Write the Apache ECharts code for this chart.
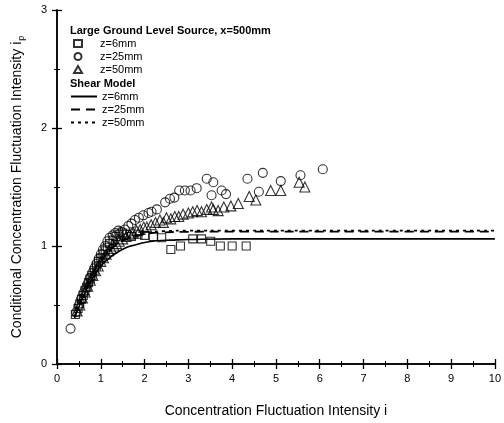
<!DOCTYPE html>
<html>
<head>
<meta charset="utf-8">
<script src="https://cdn.jsdelivr.net/npm/echarts@6/dist/echarts.min.js"></script>
<style>
  html, body { margin: 0; padding: 0; background: #fff; }
  #chart { width: 504px; height: 423px; }
</style>
</head>
<body>
<div id="chart"></div>
<script>
// Measured points: conditional intensity ip against intensity i
const sq6 = [
  [0.42,0.42],[0.48,0.47],[0.52,0.51],[0.56,0.55],[0.60,0.58],[0.64,0.62],[0.68,0.65],
  [0.72,0.69],[0.76,0.72],[0.80,0.75],[0.85,0.79],[0.90,0.83],[0.95,0.87],[1.00,0.90],
  [1.05,0.93],[1.10,0.96],[1.15,0.99],[1.20,1.02],[1.28,1.05],[1.35,1.08],[1.42,1.10],
  [1.50,1.11],[1.58,1.10],[1.70,1.08],[1.85,1.10],[2.00,1.09],[2.20,1.08],[2.39,1.07],
  [2.60,0.97],[2.82,1.00],[3.10,1.06],[3.30,1.06],[3.51,1.04],[3.73,1.00],[4.00,1.00],
  [4.32,1.00]
];
const circ25 = [
  [0.31,0.30],[0.44,0.44],[0.50,0.50],[0.55,0.55],[0.60,0.60],[0.65,0.64],[0.70,0.68],
  [0.75,0.73],[0.80,0.77],[0.85,0.81],[0.90,0.85],[0.95,0.89],[1.00,0.93],[1.05,0.97],
  [1.10,1.00],[1.15,1.04],[1.20,1.07],[1.27,1.09],[1.33,1.11],[1.40,1.13],[1.47,1.12],
  [1.55,1.14],[1.63,1.17],[1.70,1.19],[1.78,1.22],[1.87,1.24],[1.97,1.26],[2.09,1.28],
  [2.16,1.29],[2.28,1.31],[2.47,1.37],[2.58,1.40],[2.68,1.41],[2.79,1.47],[2.92,1.47],
  [3.05,1.47],[3.19,1.49],[3.42,1.57],[3.57,1.54],[3.53,1.43],[3.76,1.47],[3.86,1.44],
  [4.35,1.57],[4.61,1.46],[4.70,1.62],[5.11,1.55],[5.56,1.60],[6.07,1.65]
];
const tri50 = [
  [0.46,0.45],[0.52,0.50],[0.58,0.56],[0.64,0.61],[0.70,0.66],[0.76,0.71],[0.82,0.75],
  [0.88,0.79],[0.94,0.83],[1.00,0.87],[1.06,0.90],[1.12,0.93],[1.18,0.96],[1.24,0.98],
  [1.30,1.00],[1.36,1.02],[1.42,1.04],[1.50,1.06],[1.58,1.08],[1.66,1.10],[1.74,1.11],
  [1.82,1.13],[1.90,1.14],[1.98,1.16],[2.05,1.16],[2.15,1.18],[2.25,1.20],[2.35,1.22],
  [2.43,1.20],[2.50,1.24],[2.60,1.23],[2.69,1.25],[2.78,1.25],[2.88,1.27],[3.00,1.28],
  [3.10,1.29],[3.20,1.30],[3.30,1.29],[3.42,1.31],[3.53,1.33],[3.57,1.31],[3.68,1.30],
  [3.81,1.33],[3.97,1.34],[4.14,1.36],[4.39,1.42],[4.54,1.39],[4.88,1.47],[5.11,1.47],
  [5.53,1.54],[5.66,1.50]
];

// Shear model curves
const model6 = [
  [0.40,0.39],[0.60,0.57],[0.80,0.72],[1.00,0.83],[1.20,0.90],[1.40,0.95],[1.60,0.99],
  [1.80,1.01],[2.00,1.03],[2.30,1.045],[2.60,1.05],[3.00,1.055],[4.00,1.06],[6.00,1.06],
  [8.00,1.06],[10.0,1.06]
];
const model25 = [
  [0.40,0.40],[0.60,0.59],[0.80,0.75],[1.00,0.87],[1.20,0.96],[1.40,1.02],[1.60,1.06],
  [1.80,1.08],[2.00,1.10],[2.40,1.115],[3.00,1.12],[4.00,1.122],[6.00,1.122],[8.00,1.122],
  [10.0,1.122]
];
const model50 = [
  [0.40,0.40],[0.60,0.59],[0.80,0.75],[1.00,0.87],[1.20,0.96],[1.40,1.03],[1.60,1.07],
  [1.80,1.09],[2.00,1.11],[2.40,1.125],[3.00,1.13],[4.00,1.13],[6.00,1.13],[8.00,1.13],
  [10.0,1.13]
];

const dataNames = ['z=6mm', 'z=25mm', 'z=50mm'];
const xTicks = { min: 0, max: 10, step: 1 };
const yTicks = { min: 0, max: 3, step: 1 };

const FONT = '"Liberation Sans", Arial, Helvetica, sans-serif';
const hollow = { color: 'rgba(0,0,0,0)', borderColor: '#000', borderWidth: 1.1 };

function frameAxis(extra) {
  return Object.assign({
    axisLine: { show: true, lineStyle: { color: '#000', width: 1.5 } },
    axisTick: { show: true, inside: true, length: 5, lineStyle: { color: '#000', width: 1.3 } },
    minorTick: { show: true, splitNumber: 2, length: 3, lineStyle: { color: '#000', width: 1 } },
    splitLine: { show: false },
    axisLabel: { show: false }
  }, extra);
}

const chart = echarts.init(document.getElementById('chart'), null, { renderer: 'canvas' });

const legendText = { fontSize: 11, lineHeight: 11, color: '#000', fontFamily: FONT };

chart.setOption({
  animation: false,
  backgroundColor: '#fff',
  textStyle: { fontFamily: FONT },
  grid: { left: 57, right: 9, top: 10, bottom: 57, containLabel: false },
  title: [
    { text: 'Large Ground Level Source, x=500mm', left: 70, top: 25, padding: 0,
      textStyle: { fontSize: 11, lineHeight: 12, fontWeight: 'bold', color: '#000', fontFamily: FONT } },
    { text: 'Shear Model', left: 70, top: 78, padding: 0,
      textStyle: { fontSize: 11, lineHeight: 12, fontWeight: 'bold', color: '#000', fontFamily: FONT } }
  ],
  legend: [
    {
      data: dataNames.map(n => 'pts ' + n),
      orient: 'vertical', left: 73, top: 38, itemGap: 2, padding: 0,
      itemWidth: 8, itemHeight: 7,
      formatter: n => n.replace('pts ', ''),
      textStyle: Object.assign({ padding: [0, 0, 0, 13] }, legendText)
    },
    {
      data: dataNames.map(n => 'mdl ' + n),
      orient: 'vertical', left: 70, top: 91, itemGap: 2, padding: 0,
      itemWidth: 26, itemHeight: 9,
      itemStyle: { opacity: 0 },
      formatter: n => n.replace('mdl ', ''),
      textStyle: legendText
    }
  ],
  xAxis: [
    frameAxis({
      type: 'value', min: xTicks.min, max: xTicks.max, interval: xTicks.step,
      position: 'bottom',
      axisLabel: { show: true, color: '#000', fontSize: 11, margin: 9, fontFamily: FONT },
      name: 'Concentration Fluctuation Intensity i',
      nameLocation: 'middle', nameGap: 40,
      nameTextStyle: { fontSize: 14, color: '#000', fontFamily: FONT }
    }),
    frameAxis({ type: 'value', min: xTicks.min, max: xTicks.max, interval: xTicks.step, position: 'top' })
  ],
  yAxis: [
    frameAxis({
      type: 'value', min: yTicks.min, max: yTicks.max, interval: yTicks.step,
      position: 'left',
      axisLabel: { show: true, color: '#000', fontSize: 11, margin: 10, fontFamily: FONT },
      name: 'Conditional Concentration Fluctuation Intensity {s|i}{sub|p}',
      nameLocation: 'middle', nameGap: 31, nameRotate: 90,
      nameTextStyle: {
        fontSize: 14, color: '#000', fontFamily: FONT,
        rich: {
          s: { fontSize: 14, color: '#000', fontFamily: FONT },
          sub: { fontSize: 9, color: '#000', fontFamily: FONT, verticalAlign: 'bottom', padding: [8, 0, 0, 1] }
        }
      }
    }),
    frameAxis({ type: 'value', min: yTicks.min, max: yTicks.max, interval: yTicks.step, position: 'right' })
  ],
  series: [
    { name: 'pts z=6mm', type: 'scatter', data: sq6, symbol: 'rect', symbolSize: 8, itemStyle: hollow, z: 3 },
    { name: 'pts z=25mm', type: 'scatter', data: circ25, symbol: 'circle', symbolSize: 9, itemStyle: hollow, z: 3 },
    { name: 'pts z=50mm', type: 'scatter', data: tri50, symbol: 'triangle', symbolSize: 10, itemStyle: hollow, z: 3 },
    { name: 'mdl z=6mm', type: 'line', data: model6, smooth: true, symbol: 'none',
      lineStyle: { color: '#000', width: 1.6, type: 'solid' }, itemStyle: { color: '#000' }, z: 2 },
    { name: 'mdl z=25mm', type: 'line', data: model25, smooth: true, symbol: 'none',
      lineStyle: { color: '#000', width: 1.8, type: [9, 6] }, itemStyle: { color: '#000' }, z: 2 },
    { name: 'mdl z=50mm', type: 'line', data: model50, smooth: true, symbol: 'none',
      lineStyle: { color: '#000', width: 1.8, type: [3, 4] }, itemStyle: { color: '#000' }, z: 2 }
  ]
});
</script>
</body>
</html>
